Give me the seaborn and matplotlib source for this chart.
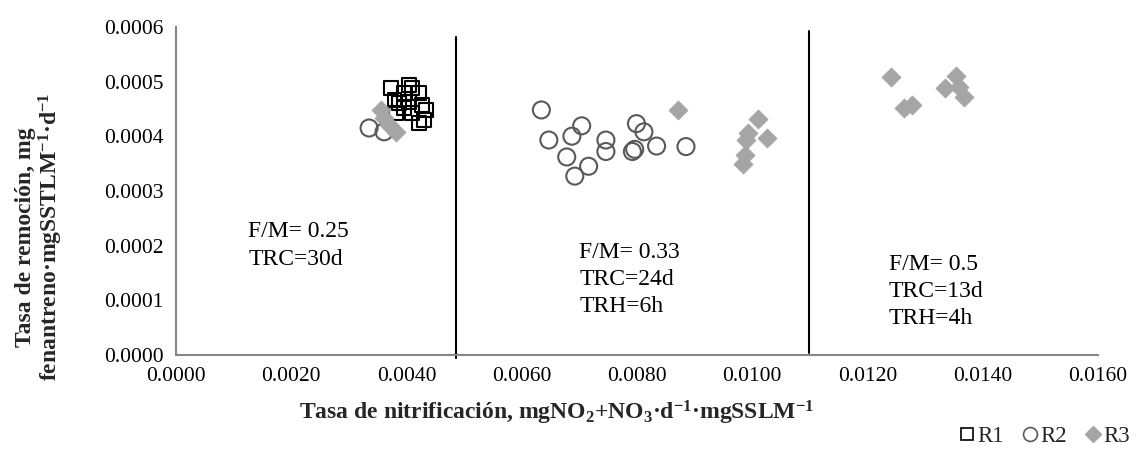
import matplotlib
matplotlib.use("Agg")
import matplotlib.pyplot as plt
from matplotlib.lines import Line2D
import seaborn as sns
import pandas as pd

# Nitrification rate (x) vs. phenanthrene removal rate (y) for three reactors
r1_x = [0.00373, 0.00405, 0.00410, 0.00396, 0.00422, 0.00387, 0.00379, 0.00404,
        0.00427, 0.00434, 0.00430, 0.00422, 0.00396, 0.00382, 0.00410]
r1_y = [0.000488, 0.000494, 0.000488, 0.000479, 0.000479, 0.000461, 0.000466, 0.000463,
        0.000457, 0.000448, 0.000430, 0.000424, 0.000452, 0.000443, 0.000443]

r2_x = [0.00335, 0.00361, 0.00634, 0.00647, 0.00704, 0.00687, 0.00678, 0.00716, 0.00692,
        0.00746, 0.00746, 0.00799, 0.00812, 0.00796, 0.00792, 0.00834, 0.00885]
r2_y = [0.000415, 0.000408, 0.000448, 0.000393, 0.000419, 0.000400, 0.000362, 0.000345, 0.000327,
        0.000393, 0.000372, 0.000423, 0.000408, 0.000376, 0.000372, 0.000382, 0.000381]

r3_x = [0.00356, 0.00361, 0.00382, 0.00370, 0.00872, 0.01010, 0.00992, 0.00989, 0.01026,
        0.00987, 0.00984, 0.01240, 0.01263, 0.01277, 0.01334, 0.01354, 0.01358, 0.01367]
r3_y = [0.000448, 0.000433, 0.000408, 0.000420, 0.000448, 0.000431, 0.000405, 0.000393, 0.000396,
        0.000366, 0.000350, 0.000508, 0.000451, 0.000457, 0.000488, 0.000511, 0.000490, 0.000472]

# Operating-regime dividers (x position, y span)
divider_x = [0.00485, 0.01098]
divider_y0 = [-0.000006, 0.000004]
divider_y1 = [0.000582, 0.000592]

# Regime annotations
regime_labels = ["F/M= 0.25\nTRC=30d", "F/M= 0.33\nTRC=24d\nTRH=6h", "F/M= 0.5\nTRC=13d\nTRH=4h"]
regime_x = [0.00125, 0.00700, 0.01237]
regime_y = [0.000200, 0.000138, 0.000116]

x_ticks = [0.0000, 0.0020, 0.0040, 0.0060, 0.0080, 0.0100, 0.0120, 0.0140, 0.0160]
y_ticks = [0.0000, 0.0001, 0.0002, 0.0003, 0.0004, 0.0005, 0.0006]

sns.set_theme(style="white")
plt.rcParams["font.family"] = ["Liberation Serif", "DejaVu Serif"]
plt.rcParams["mathtext.fontset"] = "custom"
plt.rcParams["mathtext.rm"] = "Liberation Serif"
plt.rcParams["mathtext.bf"] = "Liberation Serif:bold"
plt.rcParams["mathtext.it"] = "Liberation Serif:italic"

fig = plt.figure(figsize=(11.36, 4.55), dpi=100)
ax = fig.add_axes([0.155, 0.22, 0.8115, 0.721])

df1 = pd.DataFrame({"x": r1_x, "y": r1_y})
df2 = pd.DataFrame({"x": r2_x, "y": r2_y})
df3 = pd.DataFrame({"x": r3_x, "y": r3_y})

sns.scatterplot(data=df1, x="x", y="y", ax=ax, marker="s", s=100,
                facecolors="none", edgecolor="black", linewidth=1.5, zorder=3)
sns.scatterplot(data=df2, x="x", y="y", ax=ax, marker="o", s=150,
                facecolors="none", edgecolor="#595959", linewidth=1.5, zorder=4)
sns.scatterplot(data=df3, x="x", y="y", ax=ax, marker="D", s=95,
                color="#A5A5A5", edgecolor="#A5A5A5", linewidth=0.5, zorder=5)

for xv, y0, y1 in zip(divider_x, divider_y0, divider_y1):
    ax.plot([xv, xv], [y0, y1], color="black", linewidth=1.5, clip_on=False, zorder=2)

for txt, tx, ty in zip(regime_labels, regime_x, regime_y):
    ax.text(tx, ty, txt, fontsize=17, ha="left", va="center", linespacing=1.4, color="black")

ax.set_xlim(0, 0.016)
ax.set_ylim(0, 0.0006)
ax.set_xticks(x_ticks)
ax.set_yticks(y_ticks)
ax.set_xticklabels([f"{v:.4f}" for v in x_ticks], fontsize=15.5)
ax.set_yticklabels([f"{v:.4f}" for v in y_ticks], fontsize=15.5)

for side in ["top", "right"]:
    ax.spines[side].set_visible(False)
for side in ["left", "bottom"]:
    ax.spines[side].set_color("#868686")
    ax.spines[side].set_linewidth(1.5)
ax.tick_params(axis="both", direction="out", length=5, width=1.5, color="#868686",
               labelcolor="black", pad=4)

ax.set_xlabel(r"Tasa de nitrificación, mgNO$_\mathbf{2}$+NO$_\mathbf{3}$·d$^\mathbf{-1}$·mgSSLM$^\mathbf{-1}$",
              fontsize=17, fontweight="bold")
ax.xaxis.set_label_coords(0.413, -0.135)
ax.set_ylabel("Tasa de remoción, mg\n" r"fenantreno·mgSSTLM$^\mathbf{-1}$·d$^\mathbf{-1}$",
              fontsize=17, fontweight="bold", linespacing=1.0)
ax.yaxis.set_label_coords(-0.121, 0.36)

handles = [
    Line2D([], [], marker="s", linestyle="none", markersize=9, markerfacecolor="none",
           markeredgecolor="black", markeredgewidth=1.2),
    Line2D([], [], marker="o", linestyle="none", markersize=10, markerfacecolor="none",
           markeredgecolor="#595959", markeredgewidth=1.2),
    Line2D([], [], marker="D", linestyle="none", markersize=8, markerfacecolor="#A5A5A5",
           markeredgecolor="#A5A5A5"),
]
fig.legend(handles, ["R1", "R2", "R3"], loc="center right", bbox_to_anchor=(0.997, 0.04),
           ncol=3, frameon=False, fontsize=16.5, handletextpad=0.0, columnspacing=0.7,
           handlelength=0.9, borderaxespad=0.0, borderpad=0.1)

fig.savefig("out.png", dpi=100)
